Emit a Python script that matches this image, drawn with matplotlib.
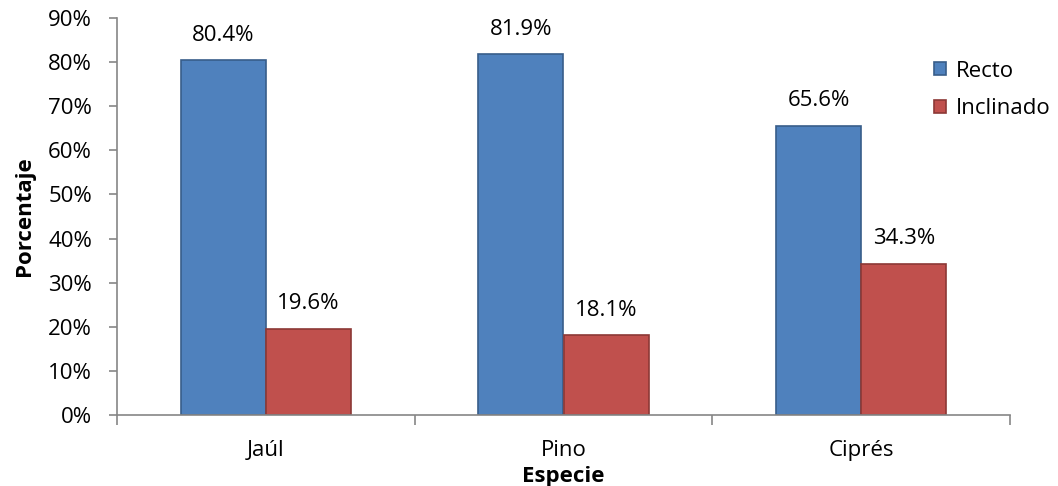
import matplotlib
matplotlib.use("Agg")
import matplotlib.pyplot as plt
import numpy as np
from matplotlib.ticker import FuncFormatter, MultipleLocator

plt.rcParams['font.family'] = ['Open Sans', 'DejaVu Sans']

categories = ["Jaúl", "Pino", "Ciprés"]
series_names = ["Recto", "Inclinado"]
recto = [80.4, 81.9, 65.6]
inclinado = [19.6, 18.1, 34.3]

FS = 16

fig = plt.figure(figsize=(10.58, 4.86), dpi=100)
ax = fig.add_axes([117/1058, 1-415/486, (1010-117)/1058, (415-18)/486])

x = np.arange(len(categories))
w = 0.286
colors = ["#4F81BD", "#C0504D"]
edges = ["#385D8A", "#8C3836"]
for i, (vals, name) in enumerate(zip([recto, inclinado], series_names)):
    pos = x + (i - 0.5) * w
    bars = ax.bar(pos, vals, width=w, color=colors[i], edgecolor=edges[i],
                  linewidth=1.2, label=name, zorder=2)
    for b, v in zip(bars, vals):
        ax.text(b.get_x() + b.get_width()/2, v + 5.6, f"{v:.1f}%",
                ha='center', va='center', fontsize=FS)

ax.set_xlim(-0.5, len(categories) - 0.5)
ax.set_ylim(0, 90)
ax.yaxis.set_major_locator(MultipleLocator(10))
ax.yaxis.set_major_formatter(FuncFormatter(lambda v, p: f"{v:.0f}%"))
ax.set_xticks(x)
ax.set_xticklabels(categories, fontsize=FS)
ax.set_xticks(np.arange(-0.5, len(categories)), minor=True)
ax.tick_params(axis='x', which='major', length=0, pad=18)
ax.tick_params(axis='x', which='minor', length=7, color='#868686', width=1.2)
ax.tick_params(axis='y', length=6, color='#868686', width=1.2, labelsize=FS, pad=12)

for s in ['top', 'right']:
    ax.spines[s].set_visible(False)
for s in ['left', 'bottom']:
    ax.spines[s].set_color('#868686')
    ax.spines[s].set_linewidth(1.2)

ax.set_ylabel("Porcentaje", fontsize=FS, fontweight='bold')
ax.yaxis.set_label_coords((35 - 117) / 893, 0.5)
ax.set_xlabel("Especie", fontsize=FS, fontweight='bold')
ax.xaxis.label.set_va('baseline')
ax.xaxis.set_label_coords(0.5, (415 - 482) / 397)

leg = ax.legend(loc='upper left', bbox_to_anchor=(0.905, 0.915), frameon=False,
                fontsize=FS, handlelength=0.55, handleheight=0.55,
                handletextpad=0.45, labelspacing=0.75, borderaxespad=0)

fig.savefig("out.png", dpi=100)
